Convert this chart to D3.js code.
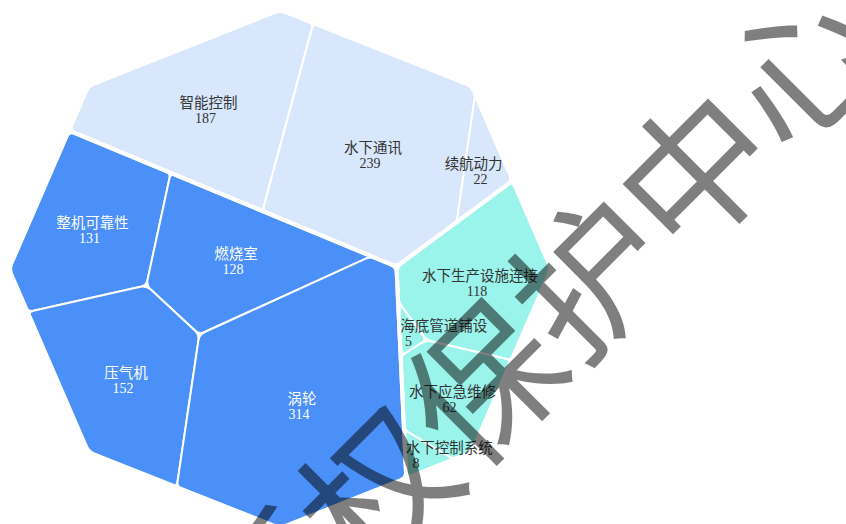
<!DOCTYPE html>
<html>
<head>
<meta charset="utf-8">
<script src="https://cdn.jsdelivr.net/npm/d3@7"></script>
<style>
  body { margin: 0; background: #fff; }
  svg { display: block; }
</style>
</head>
<body>
<div id="chart"></div>
<script>
// data
const groupKeys = ['g1', 'g2', 'g3'];
const leafNames = ['智能控制', '水下通讯', '续航动力', '整机可靠性', '燃烧室', '压气机', '涡轮', '水下生产设施连接', '海底管道铺设', '水下应急维修', '水下控制系统'];
const leafValues = [187, 239, 22, 131, 128, 152, 314, 118, 5, 62, 8];
const leafGroups = ['g1', 'g1', 'g1', 'g2', 'g2', 'g2', 'g2', 'g3', 'g3', 'g3', 'g3'];
const watermarkText = '中国版权保护中心';

// styles
const groupColors = { g1: '#d8e7fb', g2: '#4a90f8', g3: '#9bf4eb' };
const labelColors = { g1: '#333', g2: '#fff', g3: '#333' };

// layout
const W = 846, H = 524;
const cx = 280, cy = 269, rx = 271, ry = 259;
// site (generator) points of the power diagram; cell areas are solved from the values
const sites = {
  g1: [280, 120], g2: [184, 351], g3: [442, 339],
  '智能控制': [206.5, 110], '水下通讯': [371, 154.5], '续航动力': [481.5, 170.5],
  '整机可靠性': [90.5, 230], '燃烧室': [234, 261], '压气机': [124, 380], '涡轮': [300, 406],
  '水下生产设施连接': [478, 283], '海底管道铺设': [409.5, 333], '水下应急维修': [450.5, 399], '水下控制系统': [417, 455]
};

const clip = d3.range(8).map(i => {
  const a = -Math.PI / 2 + i * Math.PI / 4;
  return [cx + rx * Math.cos(a), cy + ry * Math.sin(a)];
});

const root = d3.hierarchy({
  name: 'root',
  children: groupKeys.map(g => ({
    name: g,
    children: leafNames.map((n, i) => ({ name: n, value: leafValues[i], group: leafGroups[i] }))
      .filter(d => d.group === g)
  }))
}).sum(d => d.value || 0);

// keep points where a*x + b*y <= c
function clipHalf(poly, a, b, c) {
  const out = [];
  for (let k = 0; k < poly.length; k++) {
    const p = poly[k], q = poly[(k + 1) % poly.length];
    const fp = a * p[0] + b * p[1] - c, fq = a * q[0] + b * q[1] - c;
    if (fp <= 0) out.push(p);
    if ((fp < 0 && fq > 0) || (fp > 0 && fq < 0)) {
      const t = fp / (fp - fq);
      out.push([p[0] + t * (q[0] - p[0]), p[1] + t * (q[1] - p[1])]);
    }
  }
  return out;
}

function powerCells(pts, poly) {
  return pts.map((s, i) => {
    let cell = poly.slice();
    pts.forEach((t, j) => {
      if (j === i || cell.length === 0) return;
      const a = 2 * (t.x - s.x), b = 2 * (t.y - s.y);
      const c = (t.x * t.x + t.y * t.y - t.w) - (s.x * s.x + s.y * s.y - s.w);
      cell = clipHalf(cell, a, b, c);
    });
    return cell;
  });
}

function cellArea(c) {
  return c.length > 2 ? Math.abs(d3.polygonArea(c)) : 0;
}

// weighted voronoi: adjust weights until every cell has its share of the area
function voronoiTreemap(poly, nodes) {
  const area = cellArea(poly);
  const total = d3.sum(nodes, d => d.value);
  const pts = nodes.map(d => {
    const s = sites[d.data.name];
    return { x: s[0], y: s[1], w: 0, target: area * d.value / total };
  });
  let cells = powerCells(pts, poly);
  for (let it = 0; it < 5000; it++) {
    cells.forEach((c, i) => { pts[i].w += 0.4 * (pts[i].target - cellArea(c)); });
    cells = powerCells(pts, poly);
    const err = d3.sum(cells, (c, i) => Math.abs(cellArea(c) - pts[i].target)) / area;
    if (err < 1e-4) break;
  }
  nodes.forEach((d, i) => { d.polygon = cells[i]; d.site = pts[i]; });
}

root.polygon = clip;
root.eachBefore(node => {
  if (node.children) voronoiTreemap(node.polygon, node.children);
});

function cleanPoly(pts) {
  return pts.filter((p, i) => {
    const q = pts[(i + 1) % pts.length];
    return Math.hypot(p[0] - q[0], p[1] - q[1]) > 0.5;
  });
}

function roundedPath(pts, r) {
  pts = cleanPoly(pts);
  const n = pts.length;
  let d = '';
  for (let i = 0; i < n; i++) {
    const p0 = pts[(i - 1 + n) % n], p1 = pts[i], p2 = pts[(i + 1) % n];
    const d1 = Math.hypot(p0[0] - p1[0], p0[1] - p1[1]);
    const d2 = Math.hypot(p2[0] - p1[0], p2[1] - p1[1]);
    const rr = Math.min(r, d1 / 2, d2 / 2);
    const a = [p1[0] + (p0[0] - p1[0]) * rr / d1, p1[1] + (p0[1] - p1[1]) * rr / d1];
    const b = [p1[0] + (p2[0] - p1[0]) * rr / d2, p1[1] + (p2[1] - p1[1]) * rr / d2];
    d += (i === 0 ? 'M' : 'L') + a[0] + ',' + a[1] + 'Q' + p1[0] + ',' + p1[1] + ' ' + b[0] + ',' + b[1];
  }
  return d + 'Z';
}

function spanAt(poly, y) {
  const xs = [];
  poly.forEach((p, i) => {
    const q = poly[(i + 1) % poly.length];
    if ((p[1] - y) * (q[1] - y) <= 0 && p[1] !== q[1]) {
      xs.push(p[0] + (y - p[1]) * (q[0] - p[0]) / (q[1] - p[1]));
    }
  });
  return xs.length ? [d3.min(xs), d3.max(xs)] : [0, W];
}

const svg = d3.select('#chart')
  .append('svg')
  .attr('width', W)
  .attr('height', H);

const leaves = root.leaves();
const groups = root.children;

svg.append('g')
  .selectAll('path')
  .data(leaves)
  .join('path')
  .attr('d', d => roundedPath(d.polygon, 6))
  .style('fill', d => groupColors[d.data.group])
  .style('stroke', '#fff')
  .style('stroke-width', 2);

svg.append('g')
  .selectAll('path')
  .data(groups)
  .join('path')
  .attr('d', d => roundedPath(d.polygon, 6))
  .style('fill', 'none')
  .style('stroke', '#fff')
  .style('stroke-width', 4);

const labels = svg.append('g')
  .selectAll('g')
  .data(leaves)
  .join('g');

labels.append('text')
  .attr('class', 'name')
  .attr('text-anchor', 'middle')
  .attr('dominant-baseline', 'central')
  .style('font-family', '"Noto Sans CJK SC", "Noto Sans", sans-serif')
  .style('font-size', '14.5px')
  .style('fill', d => labelColors[d.data.group])
  .text(d => d.data.name)
  .each(function (d) {
    const w = this.getComputedTextLength();
    const y = d.site.y - 8.5;
    const span = spanAt(d.parent.polygon, y);
    let x = Math.min(d.site.x + 2, span[1] - w / 2 - 2);
    x = Math.max(x, span[0] + w / 2 + 1);
    d3.select(this).attr('x', x).attr('y', y);
  });

labels.append('text')
  .attr('class', 'value')
  .attr('text-anchor', 'middle')
  .attr('dominant-baseline', 'central')
  .attr('x', d => d.site.x - 1)
  .attr('y', d => d.site.y + 8.5)
  .style('font-family', '"Liberation Serif", "Times New Roman", serif')
  .style('font-size', '14px')
  .style('fill', d => labelColors[d.data.group])
  .text(d => d.value);

svg.append('text')
  .attr('transform', 'translate(424,430) rotate(-45)')
  .attr('text-anchor', 'middle')
  .attr('dominant-baseline', 'central')
  .style('font-family', '"Noto Sans CJK SC", sans-serif')
  .style('font-size', '150px')
  .style('fill', '#000')
  .style('fill-opacity', 0.5)
  .text(watermarkText);
</script>
</body>
</html>
